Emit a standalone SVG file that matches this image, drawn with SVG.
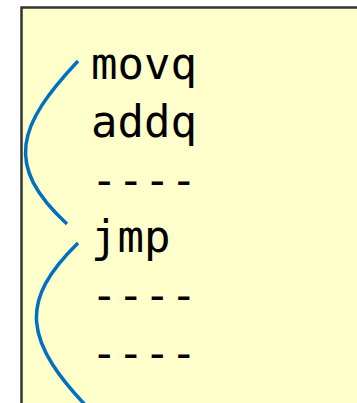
<svg xmlns="http://www.w3.org/2000/svg" width="357" height="403" viewBox="0 0 357 403">
<style>
.code{font-family:"DejaVu Sans Mono","Liberation Mono",monospace;font-size:44px;fill:#000}
.arc{fill:none;stroke:#0070C0;stroke-width:3.5}
</style>
<rect width="357" height="403" fill="#fff"/>
<g id="box">
<rect x="21.5" y="7.5" width="400" height="420" fill="#FFFFCC" stroke="#333" stroke-width="2.5"/>
<text class="code" x="91" y="79">movq</text>
<text class="code" x="91" y="137">addq</text>
<text class="code" x="91" y="195">----</text>
<text class="code" x="91" y="252">jmp</text>
<text class="code" x="91" y="310">----</text>
<text class="code" x="91" y="368">----</text>
</g>
<g id="connectors">
<path class="arc" d="M78,61 C18,125 3,165 67,224"/>
<path class="arc" d="M78,243 C20,300 20,340 95,415"/>
</g>
</svg>
